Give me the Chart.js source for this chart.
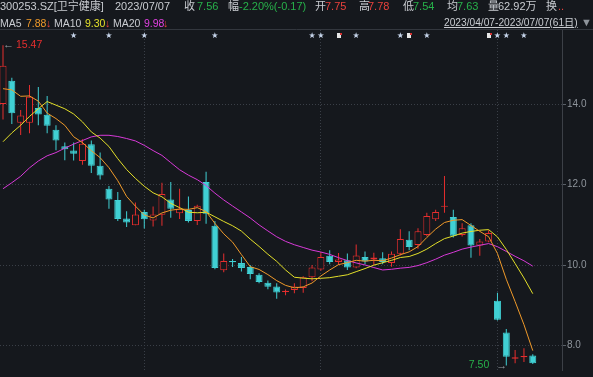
<!DOCTYPE html>
<html>
<head>
<meta charset="utf-8">
<script src="https://cdn.jsdelivr.net/npm/chart.js@4.4.0/dist/chart.umd.min.js"></script>
<style>
  html, body { margin: 0; padding: 0; background: #15181d; }
  #wrap { position: relative; width: 593px; height: 377px; overflow: hidden;
          font-family: Arial, "Liberation Sans", "Noto Sans CJK SC", sans-serif; color: #c9ccd1; }
  #wrap canvas { position: absolute; left: 0; top: 0; }
  .t { position: absolute; white-space: nowrap; line-height: 1; }
  .r1 { top: 1px; font-size: 11px; }
  .r2 { top: 18px; font-size: 10.5px; }
  .red { color: #e8413c; }
  .green { color: #27b04a; }
  .ma5 { color: #f09a2a; }
  .ma10 { color: #e4e02a; }
  .ma20 { color: #e040e0; }
  .range { text-decoration: underline; color: #c9ccd1; font-size: 10.2px; }
  .tri { color: #8e949b; font-size: 11px; }
</style>
</head>
<body>
<div id="wrap">
  <canvas id="kChart" width="593" height="377"></canvas>

  <span class="t r1" style="left:0">300253.SZ[卫宁健康]</span>
  <span class="t r1" style="left:115px">2023/07/07</span>
  <span class="t r1" style="left:184px">收</span><span class="t r1 green" style="left:197px">7.56</span>
  <span class="t r1" style="left:228px">幅</span><span class="t r1 green" style="left:239px">-2.20%(-0.17)</span>
  <span class="t r1" style="left:315px">开</span><span class="t r1 red" style="left:325px">7.75</span>
  <span class="t r1" style="left:359px">高</span><span class="t r1 red" style="left:368px">7.78</span>
  <span class="t r1" style="left:403px">低</span><span class="t r1 green" style="left:413px">7.54</span>
  <span class="t r1" style="left:447px">均</span><span class="t r1 green" style="left:457px">7.63</span>
  <span class="t r1" style="left:488px">量</span><span class="t r1" style="left:498px">62.92万</span>
  <span class="t r1" style="left:546px">换</span><span class="t r1 red" style="left:558px">..</span>

  <span class="t r2" style="left:0">MA5</span><span class="t r2 ma5" style="left:26px">7.88</span><span class="t r2 red" style="left:46px">↓</span>
  <span class="t r2" style="left:54px">MA10</span><span class="t r2 ma10" style="left:85px">9.30</span><span class="t r2 red" style="left:105px">↓</span>
  <span class="t r2" style="left:113px">MA20</span><span class="t r2 ma20" style="left:144px">9.98</span><span class="t r2 red" style="left:163px">↓</span>
  <span class="t r2 range" style="left:444px">2023/04/07-2023/07/07(61日)</span><span class="t tri" style="left:581px;top:17px">▼</span>
</div>

<script>
// 61 trading days, 2023/04/07 - 2023/07/07
const opens  = [14.01,14.59,13.54,13.54,13.91,13.74,13.37,12.96,12.85,12.59,
                13.01,12.47,11.90,11.62,11.16,10.99,11.32,11.11,11.25,11.63,
                11.29,11.37,11.10,12.07,10.98,9.87,10.08,10.05,9.95,9.76,
                9.56,9.47,9.33,9.38,9.43,9.70,9.89,10.23,10.08,10.12,
                9.94,10.20,10.14,10.17,10.05,10.28,10.63,10.50,10.75,11.14,
                11.45,11.20,10.75,10.99,10.49,10.59,9.11,8.32,7.67,7.71,7.75];
const highs  = [15.47,14.66,13.86,14.48,14.43,14.21,13.48,13.05,13.05,13.13,
                13.10,12.80,11.97,11.82,11.34,11.56,11.38,11.46,12.05,12.07,
                11.90,11.71,11.50,12.32,11.10,10.29,10.15,10.20,10.00,9.80,
                9.62,9.55,9.39,9.55,9.72,10.00,10.32,10.37,10.30,10.29,
                10.51,10.34,10.31,10.32,10.34,10.89,10.84,10.92,11.30,11.38,
                12.22,11.38,11.04,11.04,10.65,10.87,9.31,8.41,7.89,7.93,7.78];
const lows   = [13.62,13.51,13.24,13.28,13.48,13.28,12.86,12.61,12.60,12.50,
                12.29,12.13,11.40,11.10,10.95,10.99,10.91,10.96,10.98,11.18,
                11.15,11.06,11.00,11.03,9.90,9.82,9.95,9.84,9.65,9.55,
                9.40,9.16,9.25,9.30,9.31,9.60,9.86,10.02,10.00,9.88,
                9.92,10.02,10.00,10.02,9.96,10.24,10.37,10.41,10.72,11.10,
                11.30,10.69,10.71,10.18,10.23,10.57,8.62,7.50,7.56,7.59,7.54];
const closes = [14.96,13.78,13.72,14.19,13.75,13.47,13.10,12.88,12.77,13.02,
                12.47,12.23,11.63,11.15,11.06,11.26,11.14,11.26,11.77,11.40,
                11.40,11.10,11.48,11.28,9.93,10.10,10.07,9.93,9.78,9.58,
                9.46,9.32,9.34,9.47,9.70,9.94,10.20,10.08,10.14,9.94,
                10.24,10.09,10.19,10.08,10.28,10.65,10.45,10.84,11.22,11.32,
                11.47,10.73,10.92,10.49,10.59,10.80,8.64,7.72,7.71,7.73,7.56];

// moving average values at the left edge (their windows start before the shown range)
const ma5Lead  = [14.39,14.36,14.20,14.21];
const ma10Lead = [13.07,13.29,13.48,13.70,13.89,14.07,13.98,13.89,13.76];
const ma20Lead = [11.90,12.05,12.21,12.42,12.59,12.72,12.80,12.91,13.01,13.10,
                  13.19,13.23,13.23,13.20,13.15,13.09,12.98,12.85,12.73];

// first trading day of May, June and July
const monthStarts = [16, 36, 56];
const yTicks = [8, 10, 12, 14];

// event markers on the top row
const starDays = [8, 12, 16, 24, 35, 36, 40, 45, 48, 56, 57, 59];
const flagDays = [38, 46, 55];

const BG = '#15181d';
const UP = '#e62e2e';
const DOWN = '#40d0d4';

function movingAvg(n, lead) {
    return closes.map((c, i) => {
        if (i < lead.length) return { x: i, y: lead[i] };
        let s = 0;
        for (let k = i - n + 1; k <= i; k++) s += closes[k];
        return { x: i, y: s / n };
    });
}

const isUp = closes.map((c, i) => c >= opens[i]);

const wickData = closes.map((c, i) => ({ x: i, y: [lows[i], highs[i]] }));
const bodyData = closes.map((c, i) => ({ x: i, y: [opens[i], c] }));

// top line, event markers and the high / low labels
const markerPlugin = {
    id: 'markers',
    beforeDraw(chart) {
        const ctx = chart.ctx;
        ctx.save();
        ctx.strokeStyle = '#33373e';
        ctx.lineWidth = 1;
        ctx.beginPath();
        ctx.moveTo(0, chart.chartArea.top - 0.5);
        ctx.lineTo(chart.width, chart.chartArea.top - 0.5);
        ctx.stroke();
        ctx.restore();
    },
    afterDatasetsDraw(chart) {
        const { ctx, chartArea } = chart;
        const xs = chart.scales.x, ys = chart.scales.y;
        ctx.save();
        ctx.textBaseline = 'middle';
        ctx.textAlign = 'center';
        ctx.font = '8px "DejaVu Sans"';
        ctx.fillStyle = '#c6d4ea';
        starDays.forEach(d => ctx.fillText('★', xs.getPixelForValue(d), chartArea.top + 5.5));
        flagDays.forEach(d => {
            const px = Math.round(xs.getPixelForValue(d));
            ctx.fillStyle = '#e6e6e6';
            ctx.fillRect(px - 2, chartArea.top + 3, 4, 5);
            ctx.fillStyle = '#d23030';
            ctx.fillRect(px + 1, chartArea.top + 3, 2, 2);
        });

        // highest price
        const hi = Math.max(...highs);
        const hiIdx = highs.indexOf(hi);
        const hx = xs.getPixelForValue(hiIdx), hy = ys.getPixelForValue(hi);
        ctx.textAlign = 'left';
        ctx.font = '11px "Liberation Sans"';
        ctx.fillStyle = '#9aa0a6';
        ctx.fillText('←', hx, hy);
        ctx.fillStyle = UP;
        ctx.font = '10.5px "Liberation Sans"';
        ctx.fillText(hi.toFixed(2), hx + 13, hy);

        // lowest price
        const lo = Math.min(...lows);
        const loIdx = lows.indexOf(lo);
        const lx = xs.getPixelForValue(loIdx), ly = ys.getPixelForValue(lo);
        ctx.textAlign = 'right';
        ctx.font = '11px "Liberation Sans"';
        ctx.fillStyle = '#9aa0a6';
        ctx.fillText('→', lx + 1, ly);
        ctx.fillStyle = '#27b04a';
        ctx.font = '10.5px "Liberation Sans"';
        ctx.fillText(lo.toFixed(2), lx - 17, ly);
        ctx.restore();
    }
};

new Chart(document.getElementById('kChart'), {
    data: {
        datasets: [
            {
                type: 'line', label: 'MA5', data: movingAvg(5, ma5Lead), order: 0,
                borderColor: '#f09a2a', borderWidth: 1, pointRadius: 0, tension: 0
            },
            {
                type: 'line', label: 'MA10', data: movingAvg(10, ma10Lead), order: 0,
                borderColor: '#e4e02a', borderWidth: 1, pointRadius: 0, tension: 0
            },
            {
                type: 'line', label: 'MA20', data: movingAvg(20, ma20Lead), order: 0,
                borderColor: '#d83ad8', borderWidth: 1, pointRadius: 0, tension: 0
            },
            {
                type: 'bar', label: 'body', data: bodyData, order: 1, grouped: false,
                barThickness: 7, minBarLength: 1.2, inflateAmount: 0,
                backgroundColor: isUp.map(u => u ? BG : DOWN),
                borderColor: isUp.map(u => u ? UP : DOWN),
                borderWidth: 1, borderSkipped: false
            },
            {
                type: 'bar', label: 'wick', data: wickData, order: 2, grouped: false,
                barThickness: 1, inflateAmount: 0, borderWidth: 0,
                backgroundColor: isUp.map(u => u ? UP : DOWN)
            }
        ]
    },
    options: {
        responsive: false,
        animation: false,
        devicePixelRatio: 1,
        layout: { padding: { top: 30, left: 0, right: 0, bottom: 0 } },
        plugins: { legend: { display: false }, tooltip: { enabled: false } },
        scales: {
            x: {
                type: 'linear', min: -0.34, max: 63.31, offset: false,
                afterBuildTicks: axis => { axis.ticks = monthStarts.map(v => ({ value: v })); },
                afterFit: axis => { axis.height = 0; },
                ticks: { display: false },
                grid: { color: '#3a3f47', drawTicks: false, offset: false },
                border: { display: false, dash: [1, 2] }
            },
            y: {
                position: 'right', min: 7.39, max: 15.85,
                afterBuildTicks: axis => { axis.ticks = yTicks.map(v => ({ value: v })); },
                afterFit: axis => { axis.width = 31; },
                ticks: {
                    color: '#8e949b', padding: 1,
                    font: { family: 'Liberation Sans', size: 10 },
                    callback: v => v.toFixed(1)
                },
                grid: { color: '#3a3f47', tickLength: 4, tickColor: '#5a6068', tickBorderDash: [] },
                border: { display: true, color: '#3c4047', dash: [1, 2] }
            }
        }
    },
    plugins: [markerPlugin]
});
</script>
</body>
</html>
